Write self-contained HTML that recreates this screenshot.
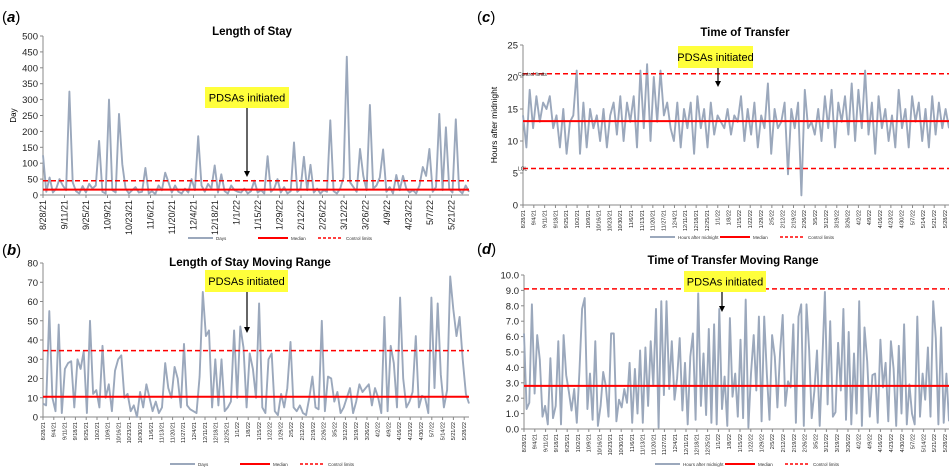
<!DOCTYPE html>
<html><head><meta charset="utf-8"><style>
html,body{margin:0;padding:0;background:#fff;}
svg{display:block;font-family:"Liberation Sans",Arial,sans-serif;}
</style></head><body>
<svg id="chart" width="949" height="471" viewBox="0 0 949 471"></svg>
<script>
const weeklyLabels=["8/28/21","9/4/21","9/11/21","9/18/21","9/25/21","10/2/21","10/9/21","10/16/21","10/23/21","10/30/21","11/6/21","11/13/21","11/20/21","11/27/21","12/4/21","12/11/21","12/18/21","12/25/21","1/1/22","1/8/22","1/15/22","1/22/22","1/29/22","2/5/22","2/12/22","2/19/22","2/26/22","3/5/22","3/12/22","3/19/22","3/26/22","4/2/22","4/9/22","4/16/22","4/23/22","4/30/22","5/7/22","5/14/22","5/21/22","5/28/22"];
const biweeklyLabels=["8/28/21","9/11/21","9/25/21","10/9/21","10/23/21","11/6/21","11/20/21","12/4/21","12/18/21","1/1/22","1/15/22","1/29/22","2/12/22","2/26/22","3/12/22","3/26/22","4/9/22","4/23/22","5/7/22","5/21/22"];
const losValues=[125,10,55,8,20,50,30,15,325,40,12,5,28,8,35,20,30,170,10,5,300,15,8,255,97,20,5,15,25,8,10,85,5,12,3,30,15,70,40,8,30,10,5,20,8,50,15,185,30,10,35,20,93,8,65,12,5,30,15,10,8,20,5,12,45,8,15,5,122,10,20,50,8,25,5,12,165,10,20,120,15,95,8,20,5,15,10,235,12,5,20,55,435,40,25,10,145,60,15,283,20,30,55,143,10,25,5,63,15,60,20,8,15,5,30,88,60,145,10,25,255,15,213,20,8,238,15,5,30,10];
const losMedian=17, losUCL=45;
const losMRValues=[7,6,55,10,3,48,2,25,28,29,5,30,25,34,2,50,12,14,5,37,10,17,3,24,30,32,10,12,3,6,0,13,5,17,10,3,8,2,5,28,15,10,26,20,5,38,6,4,3,2,21,65,42,45,5,30,6,30,3,5,8,45,10,47,36,5,33,25,10,59,5,2,30,33,3,1,12,5,15,39,5,3,6,2,1,10,21,5,4,50,3,21,20,8,13,2,5,10,15,2,8,17,13,15,17,6,15,10,2,52,3,37,28,5,62,20,5,8,13,42,5,11,10,2,62,15,59,22,5,14,73,56,42,52,30,12,7];
const losMRMedian=10.5, losMRUCL=34.5;
const totValues=[14,9,18,12,17,13,16,15,17,12,14,9,15,8,13,14,21,8,16,9,15,12,14,10,15,9,14,16,11,17,10,16,13,17,9,21,12,22,10,20,13,21,14,16,12,10,16,9,15,12,16,8,17,12,15,9,16,11,14,13,12,15,11,14,13,17,10,15,11,16,9,14,12,19,8,15,12,13,16,4.8,15,12,16,1.5,18,12,13,11,15,10,17,12,18,9,16,13,17,11,19,10,18,12,21,11,16,8,17,12,15,10,14,9,18,12,15,9,17,13,16,10,15,9,17,11,16,12,15,12];
const totMedian=13.1, totUCL=20.5, totLCL=5.7;
const totMRValues=[6.2,1.3,1.7,8.1,2.3,6.1,4.5,0.8,1.5,0.3,4.6,0.7,1.5,5.7,0.3,6.1,3.5,2.4,1.2,2.6,0.4,3.7,7.8,8.5,1.3,3.6,0.6,5.7,0.2,1.5,3.7,2.8,0.8,6.2,6.2,0.5,1.9,1.4,2.6,1.7,4.3,0.4,3.9,1.0,5.1,0.4,5.3,1.5,5.7,2.8,7.8,0.1,8.3,2.2,8.3,2.6,5.7,1.9,3.3,5.9,1.2,4.3,0.3,4.7,6.2,0.6,8.8,1.5,4.9,0.9,6.5,0.4,6.8,0.3,7.8,1.3,3.4,0.2,7.2,2.1,3.6,0.8,5.8,0.7,8.4,0.1,3.6,6.1,2.5,7.3,0.5,7.3,3.5,0.6,6.1,4.7,1.4,5.0,7.4,1.5,3.1,2.7,6.8,0.4,7.3,8.1,0.2,8.1,5.2,0.7,2.5,5.1,0.2,4.4,8.9,1.6,7.0,0.8,1.1,5.6,2.5,7.8,0.6,6.3,0.3,4.9,1.0,8.3,0.2,6.6,4.4,0.8,3.5,3.6,0.4,5.8,2.7,4.3,0.5,5.7,3.9,0.2,5.4,1.0,6.8,0.3,2.9,1.0,0.3,7.3,0.8,3.6,1.9,5.3,0.8,8.3,5.9,0.3,6.6,0.4,3.6,0.5];
const totMRMedian=2.8, totMRUCL=9.1;
const losTicks=[0,50,100,150,200,250,300,350,400,450,500];
const losMRTicks=[0,10,20,30,40,50,60,70,80];
const totTicks=[0,5,10,15,20,25];
const totMRTicks=["0.0","1.0","2.0","3.0","4.0","5.0","6.0","7.0","8.0","9.0","10.0"];

const svg=document.getElementById('chart');
const NS='http://www.w3.org/2000/svg';
function mk(tag,attrs,parent,text){const e=document.createElementNS(NS,tag);for(const k in attrs)e.setAttribute(k,attrs[k]);if(text!==undefined)e.textContent=text;(parent||svg).appendChild(e);return e;}

function panel(c){
  const g=mk('g',{});
  
  
  const ys=v=>c.yb-(v-c.ymin)/(c.ymax-c.ymin)*(c.yb-c.yt);
  const xs=i=>c.x0+i/(c.values.length-1)*(c.xe-c.x0);
  const lt=mk('text',{x:c.lx,y:c.ly,'font-size':15},g);
  
  
  mk('tspan',{},lt,'(');mk('tspan',{'font-weight':'bold','font-style':'italic'},lt,c.letter);mk('tspan',{},lt,')');
  const tt=mk('text',{x:c.tx,y:c.ty,'font-size':11.5,'font-weight':'bold','text-anchor':'middle'},g,c.title);
  
  
  mk('line',{x1:c.x0,y1:c.yt,x2:c.x0,y2:c.yb,stroke:'#888','stroke-width':1},g);
  c.yticks.forEach(t=>{const v=parseFloat(t);const y=ys(v);
    mk('line',{x1:c.x0-3,y1:y,x2:c.x0,y2:y,stroke:'#888'},g);
    const tl=mk('text',{x:c.x0-5,y:y+3.5,'font-size':9.5,'text-anchor':'end',fill:'#222'},g,t);
    
    
  });
  mk('line',{x1:c.x0,y1:c.yb,x2:c.xe,y2:c.yb,stroke:'#888'},g);
  if(c.ylabel){const yl=mk('text',{x:c.ylx,y:(c.yt+c.yb)/2,'font-size':c.ylfs,'text-anchor':'middle',transform:`rotate(-90 ${c.ylx} ${(c.yt+c.yb)/2})`},g,c.ylabel);
    
    }
  c.xlabels.forEach((l,j)=>{const x=c.x0+j*c.xstep;
    mk('line',{x1:x,y1:c.yb,x2:x,y2:c.yb+3,stroke:'#888'},g);
    const xl=mk('text',{x:x+c.xfs/3,y:c.yb+5,'font-size':c.xfs,'text-anchor':'end',fill:'#222',transform:`rotate(-90 ${x+c.xfs/3} ${c.yb+5})`},g,l);
    
    
  });
  const pts=c.values.map((v,i)=>xs(i).toFixed(1)+','+ys(v).toFixed(1)).join(' ');
  const pl=mk('polyline',{points:pts,fill:'none',stroke:'#9ba8bc','stroke-width':1.9,'stroke-linejoin':'round'},g);
  
  
  const xr=c.lineEnd;
  const md=mk('line',{x1:c.x0,y1:ys(c.median),x2:xr,y2:ys(c.median),stroke:'#ff0000','stroke-width':2},g);
  
  
  c.limits.forEach(lim=>{
    const ll=mk('line',{x1:c.x0,y1:ys(lim),x2:xr,y2:ys(lim),stroke:'#ff0000','stroke-width':1.5,'stroke-dasharray':'5,3'},g);
    
    
  });
  if(c.limitText){c.limitText.forEach(t=>{mk('text',{x:c.x0-5,y:ys(t[1])+2,'font-size':5,fill:'#222'},g,t[0]);});}
  const b=c.box;
  const bx=mk('rect',{x:b[0],y:b[1],width:b[2],height:b[3],fill:'#ffff3b'},g);
  
  
  mk('text',{x:b[0]+b[2]/2,y:b[1]+b[3]/2+4,'font-size':11,'text-anchor':'middle'},g,'PDSAs initiated');
  const ax=c.arrow[0];
  const ar=mk('line',{x1:ax,y1:b[1]+b[3],x2:ax,y2:c.arrow[1]-5,stroke:'#000','stroke-width':1.2},g);
  
  
  mk('polygon',{points:`${ax-3},${c.arrow[1]-6} ${ax+3},${c.arrow[1]-6} ${ax},${c.arrow[1]}`,fill:'#000'},g);
  const lg=mk('g',{},g);
  
  
  const L=c.legend, ly=L[1];
  mk('line',{x1:L[0],y1:ly,x2:L[0]+25,y2:ly,stroke:'#9ba8bc','stroke-width':2},lg);
  mk('text',{x:L[0]+28,y:ly+2,'font-size':4.5,fill:'#333'},lg,c.seriesName);
  mk('line',{x1:L[0]+70,y1:ly,x2:L[0]+100,y2:ly,stroke:'#ff0000','stroke-width':2},lg);
  mk('text',{x:L[0]+103,y:ly+2,'font-size':4.5,fill:'#333'},lg,'Median');
  mk('line',{x1:L[0]+130,y1:ly,x2:L[0]+155,y2:ly,stroke:'#ff0000','stroke-width':1.5,'stroke-dasharray':'3,2'},lg);
  mk('text',{x:L[0]+158,y:ly+2,'font-size':4.5,fill:'#333'},lg,'Control limits');
}

panel({name:'panel-a-length-of-stay',letter:'a',lx:2,ly:22,title:'Length of Stay',tx:252,ty:35,
  x0:43,xe:469,lineEnd:469,yt:36,yb:195,ymin:0,ymax:500,yticks:losTicks,ylabel:'Day',ylx:16,ylfs:8,
  xlabels:biweeklyLabels,xstep:21.5,xfs:9,values:losValues,median:losMedian,limits:[losUCL],
  box:[205,87,84,21],arrow:[247,177],legend:[188,238],seriesName:'Days'});
panel({name:'panel-b-length-of-stay-moving-range',letter:'b',lx:2,ly:255,title:'Length of Stay Moving Range',tx:250,ty:266,
  x0:43,xe:469,lineEnd:469,yt:263,yb:417,ymin:0,ymax:80,yticks:losMRTicks,
  xlabels:weeklyLabels,xstep:10.8,xfs:5.5,values:losMRValues,median:losMRMedian,limits:[losMRUCL],
  box:[205,270,83,22],arrow:[247,333],legend:[170,464],seriesName:'Days'});
panel({name:'panel-c-time-of-transfer',letter:'c',lx:477,ly:22,title:'Time of Transfer',tx:745,ty:36,
  x0:523,xe:949,lineEnd:949,yt:45,yb:205,ymin:0,ymax:25,yticks:totTicks,ylabel:'Hours after midnight',ylx:497,ylfs:8.5,
  xlabels:weeklyLabels,xstep:10.82,xfs:5.5,values:totValues,median:totMedian,limits:[totUCL,totLCL],
  limitText:[['Control limits',totUCL],['LCL',totLCL]],
  box:[678,46,75,22],arrow:[718,87],legend:[650,237],seriesName:'Hours after midnight'});
panel({name:'panel-d-time-of-transfer-moving-range',letter:'d',lx:477,ly:254,title:'Time of Transfer Moving Range',tx:733,ty:264,
  x0:524,xe:949,lineEnd:949,yt:275,yb:429,ymin:0,ymax:10,yticks:totMRTicks,
  xlabels:weeklyLabels,xstep:10.8,xfs:5.5,values:totMRValues,median:totMRMedian,limits:[totMRUCL],
  box:[684,271,82,21],arrow:[722,312],legend:[655,464],seriesName:'Hours after midnight'});
</script>
</body></html>
